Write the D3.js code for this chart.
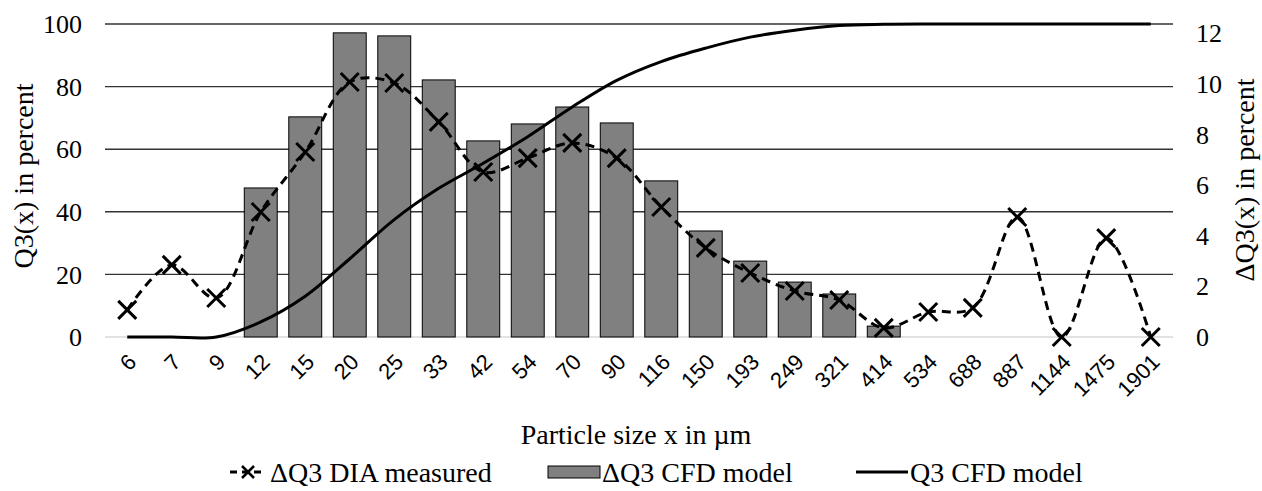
<!DOCTYPE html>
<html>
<head>
  <title>Particle size distribution</title>
  <script src="https://d3js.org/d3.v7.min.js"></script>
  <style>
    body { margin: 0; background: #fff; }
    text { font-family: "Liberation Serif", "DejaVu Serif", serif; fill: #000; }
  </style>
</head>
<body>
  <div id="chart"></div>

  <script>
    // particle size classes (µm)
    var sizes = ["6", "7", "9", "12", "15", "20", "25", "33", "42", "54", "70", "90",
                 "116", "150", "193", "249", "321", "414", "534", "688", "887", "1144", "1475", "1901"];

    // ΔQ3 measured by DIA (right axis, %)
    var dq3Measured = [1.07, 2.85, 1.54, 4.94, 7.31, 10.08, 10.04, 8.5, 6.52, 7.07, 7.67, 7.07,
                       5.14, 3.52, 2.53, 1.82, 1.46, 0.36, 0.99, 1.15, 4.74, 0, 3.91, 0];

    // ΔQ3 from CFD model (right axis, %)
    var dq3Model = [0, 0, 0, 5.89, 8.7, 12.02, 11.9, 10.16, 7.75, 8.42, 9.09, 8.46,
                    6.17, 4.19, 3.0, 2.17, 1.7, 0.43, 0, 0, 0, 0, 0, 0];

    // Q3 cumulative from CFD model (left axis, %)
    var q3Model = [0, 0, 0, 4.8, 13, 25, 37.5, 47.5, 55.5, 64, 73.5, 82,
                   88, 92.3, 95.8, 98, 99.5, 99.9, 100, 100, 100, 100, 100, 100];

    var leftTicks = [0, 20, 40, 60, 80, 100];
    var rightTicks = [0, 2, 4, 6, 8, 10, 12];

    var width = 1262, height = 491;
    var margin = { top: 24, right: 89, bottom: 154, left: 105 };
    var plotRight = width - margin.right;
    var plotBottom = height - margin.bottom;

    var svg = d3.select("#chart")
      .append("svg")
      .attr("width", width)
      .attr("height", height);

    var x = d3.scaleBand()
      .domain(sizes)
      .range([margin.left, plotRight])
      .paddingInner(0.26)
      .paddingOuter(0.13);

    var cx = function(d) { return x(d) + x.bandwidth() / 2; };

    var yLeft = d3.scaleLinear().domain([0, 100]).range([plotBottom, margin.top]);
    var yRight = d3.scaleLinear().domain([0, 12.37]).range([plotBottom, margin.top]);

    // gridlines
    svg.append("g")
      .selectAll("line")
      .data(leftTicks)
      .enter()
      .append("line")
      .attr("x1", margin.left)
      .attr("x2", plotRight)
      .attr("y1", function(d) { return yLeft(d); })
      .attr("y2", function(d) { return yLeft(d); })
      .attr("stroke", function(d) { return d === 0 ? "#d9d9d9" : "#333"; })
      .attr("stroke-width", 1.4);

    // bars
    svg.append("g")
      .selectAll("rect")
      .data(sizes.map(function(s, i) { return { size: s, v: dq3Model[i] }; }).filter(function(d) { return d.v > 0; }))
      .enter()
      .append("rect")
      .attr("x", function(d) { return x(d.size); })
      .attr("y", function(d) { return yRight(d.v); })
      .attr("width", x.bandwidth())
      .attr("height", function(d) { return plotBottom - yRight(d.v); })
      .attr("fill", "#808080")
      .attr("stroke", "#000")
      .attr("stroke-width", 1);

    // measured dashed line
    var measuredLine = d3.line()
      .x(function(d, i) { return cx(sizes[i]); })
      .y(function(d) { return yRight(d); })
      .curve(d3.curveCatmullRom.alpha(0.5));

    svg.append("path")
      .datum(dq3Measured)
      .attr("d", measuredLine)
      .attr("fill", "none")
      .attr("stroke", "#000")
      .attr("stroke-width", 3)
      .attr("stroke-dasharray", "9,6");

    // Q3 line
    var q3Line = d3.line()
      .x(function(d, i) { return cx(sizes[i]); })
      .y(function(d) { return yLeft(d); })
      .curve(d3.curveCatmullRom.alpha(0.5));

    svg.append("path")
      .datum(q3Model)
      .attr("d", q3Line)
      .attr("fill", "none")
      .attr("stroke", "#000")
      .attr("stroke-width", 3);

    // x markers
    var m = 9;
    svg.append("g")
      .selectAll("path")
      .data(dq3Measured)
      .enter()
      .append("path")
      .attr("transform", function(d, i) { return "translate(" + cx(sizes[i]) + "," + yRight(d) + ")"; })
      .attr("d", "M" + (-m) + "," + (-m) + "L" + m + "," + m + "M" + (-m) + "," + m + "L" + m + "," + (-m))
      .attr("stroke", "#000")
      .attr("stroke-width", 3)
      .attr("fill", "none");

    // left axis labels
    svg.append("g")
      .selectAll("text")
      .data(leftTicks)
      .enter()
      .append("text")
      .attr("x", 82)
      .attr("y", function(d) { return yLeft(d); })
      .attr("dy", "0.35em")
      .attr("text-anchor", "end")
      .style("font-size", "26px")
      .text(function(d) { return d; });

    // right axis labels
    svg.append("g")
      .selectAll("text")
      .data(rightTicks)
      .enter()
      .append("text")
      .attr("x", 1196)
      .attr("y", function(d) { return yRight(d); })
      .attr("dy", "0.35em")
      .attr("text-anchor", "start")
      .style("font-size", "26px")
      .text(function(d) { return d; });

    // x tick labels
    svg.append("g")
      .selectAll("text")
      .data(sizes)
      .enter()
      .append("text")
      .attr("transform", function(d) { return "translate(" + (cx(d) + 5) + "," + (plotBottom + 21) + ") rotate(-45)"; })
      .attr("text-anchor", "end")
      .attr("dy", "0.35em")
      .style("font-size", "22px")
      .style("font-family", "'Liberation Sans', Arial, sans-serif")
      .text(function(d) { return d; });

    // axis titles
    svg.append("text")
      .attr("transform", "translate(33,176) rotate(-90)")
      .attr("text-anchor", "middle")
      .style("font-size", "28px")
      .text("Q3(x) in percent");

    svg.append("text")
      .attr("transform", "translate(1254,180) rotate(-90)")
      .attr("text-anchor", "middle")
      .style("font-size", "28px")
      .text("ΔQ3(x) in percent");

    svg.append("text")
      .attr("x", 636)
      .attr("y", 444)
      .attr("text-anchor", "middle")
      .style("font-size", "28px")
      .text("Particle size x in µm");

    // legend
    var ly = 472;
    var leg = svg.append("g");

    leg.append("line")
      .attr("x1", 230).attr("x2", 266).attr("y1", ly).attr("y2", ly)
      .attr("stroke", "#000").attr("stroke-width", 3).attr("stroke-dasharray", "7,5");
    leg.append("path")
      .attr("transform", "translate(248," + ly + ")")
      .attr("d", "M-6,-6L6,6M-6,6L6,-6")
      .attr("stroke", "#000").attr("stroke-width", 2.5);
    leg.append("text")
      .attr("x", 270).attr("y", ly).attr("dy", "0.35em")
      .style("font-size", "28px")
      .text("ΔQ3 DIA measured");

    leg.append("rect")
      .attr("x", 548).attr("y", ly - 6).attr("width", 52).attr("height", 12)
      .attr("fill", "#808080").attr("stroke", "#000").attr("stroke-width", 1);
    leg.append("text")
      .attr("x", 602).attr("y", ly).attr("dy", "0.35em")
      .style("font-size", "28px")
      .text("ΔQ3 CFD model");

    leg.append("line")
      .attr("x1", 856).attr("x2", 908).attr("y1", ly).attr("y2", ly)
      .attr("stroke", "#000").attr("stroke-width", 3);
    leg.append("text")
      .attr("x", 910).attr("y", ly).attr("dy", "0.35em")
      .style("font-size", "28px")
      .text("Q3 CFD model");
  </script>
</body>
</html>
